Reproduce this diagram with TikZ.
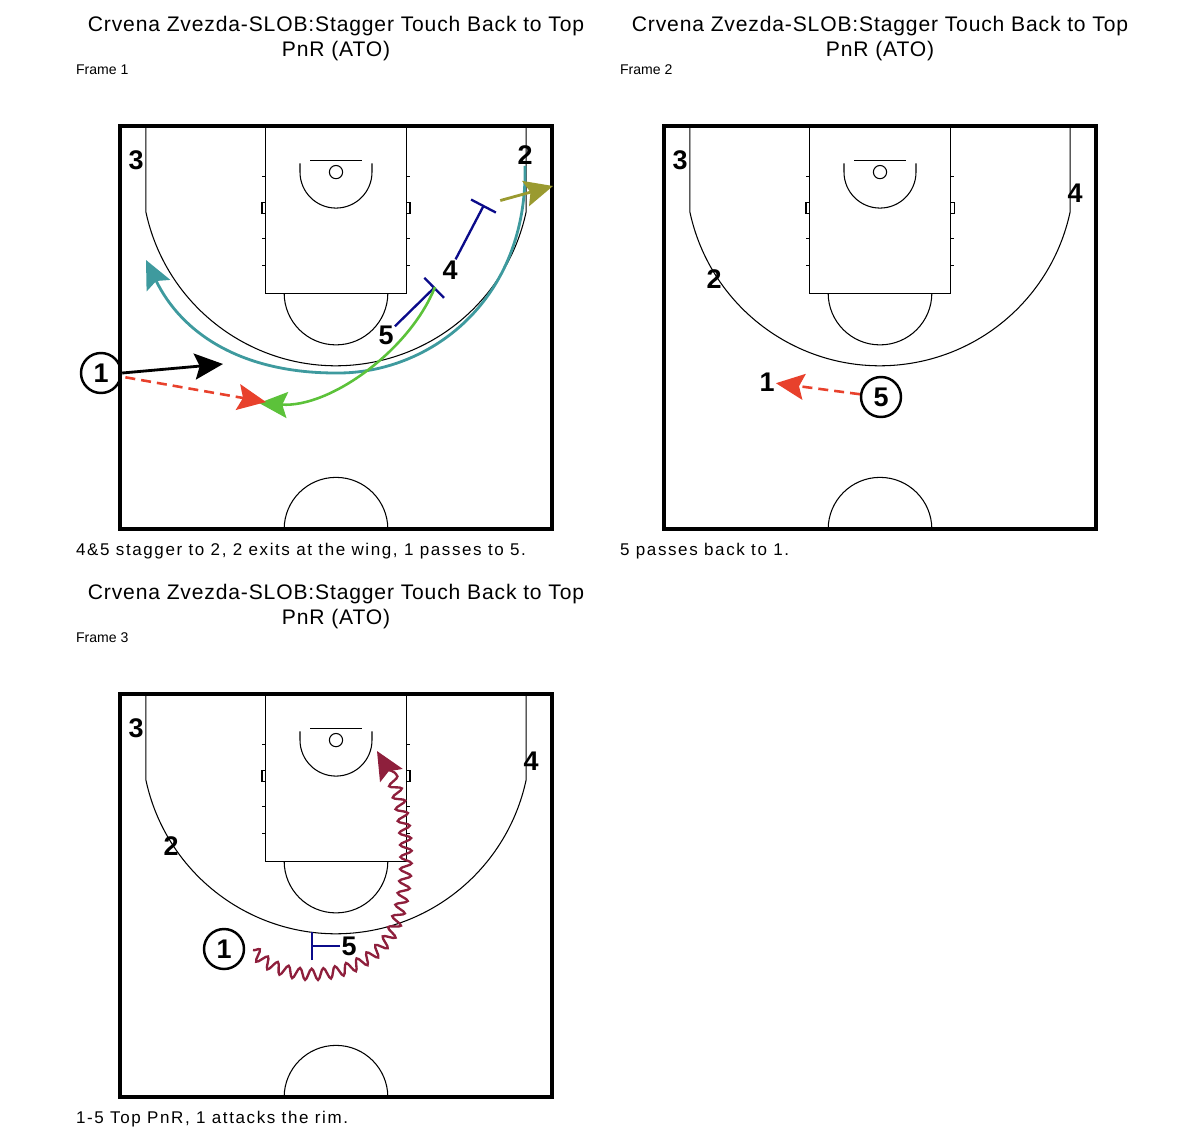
\documentclass[tikz,border=0pt]{standalone}
\usepackage{fontspec}
\setmainfont{Liberation Sans}
\newfontfamily\titlefont[LetterSpace=4.0]{Liberation Sans}
\newfontfamily\capfont[LetterSpace=9.5]{Liberation Sans}
\usetikzlibrary{arrows.meta}
\usetikzlibrary{decorations.pathmorphing}

\definecolor{passred}{HTML}{E8412C}
\definecolor{cutgreen}{HTML}{5CC23A}
\definecolor{curlteal}{HTML}{3E9A9E}
\definecolor{exitolive}{HTML}{9A9A30}
\definecolor{screenblue}{HTML}{0B0B8A}
\definecolor{drivemaroon}{HTML}{8E1F3C}

\tikzset{
  courtline/.style={line width=0.9pt},
  court/.pic={
    \draw[line width=3.4pt] (0,0) rectangle (15,14);
    % lane, free throw circle, board, rim
    \draw[courtline] (5.05,0) rectangle (9.95,5.8);
    \draw[courtline] (9.3,5.8) arc[start angle=0, end angle=180, radius=1.8];
    \draw[courtline] (6.6,1.2) -- (8.4,1.2);
    \draw[courtline] (7.5,1.6) circle[radius=0.23];
    \draw[courtline] (6.25,1.3) -- (6.25,1.6) arc[start angle=180, end angle=0, radius=1.25] -- (8.75,1.3);
    \foreach \y in {1.75,3.9,4.85} {
      \draw[courtline] (5.05,\y) -- (4.93,\y);
      \draw[courtline] (9.95,\y) -- (10.07,\y);
    }
    \draw[courtline] (4.93,2.65) rectangle (5.05,3.05);
    \draw[courtline] (9.95,2.65) rectangle (10.07,3.05);
    % three point line and centre circle
    \draw[courtline] (0.9,0) -- (0.9,2.99) arc[start angle=167.9, end angle=12.1, radius=6.75] -- (14.1,0);
    \draw[courtline] (9.3,14) arc[start angle=0, end angle=-180, radius=1.8];
  },
  title/.style={align=center, font=\titlefont\fontsize{18}{21.3}\selectfont},
  framelbl/.style={anchor=west, font=\fontsize{12}{14}\selectfont},
  caption/.style={anchor=west, font=\capfont\fontsize{14.5}{16}\selectfont},
  player/.style={font=\fontsize{23}{23}\selectfont\bfseries, inner sep=1pt},
  ball/.style={player, draw, circle, line width=2.1pt, minimum size=12mm, inner sep=0pt},
  head/.style={-{Stealth[length=8.5mm, width=7.8mm, inset=1.5mm]}},
  move/.style={head, line width=2.4pt},
  pass/.style={head, line width=2.2pt, dashed, dash pattern=on 3mm off 1.8mm, passred},
  cut/.style={head, line width=2.2pt, cutgreen},
  curl/.style={head, line width=2.4pt, curlteal},
  exit/.style={head, line width=2.4pt, exitolive},
  screen/.style={-{Bar[width=8.4mm, line width=2pt]}, line width=2pt, screenblue},
  dribble/.style={head, line width=2pt, drivemaroon,
    decorate, decoration={snake, amplitude=1.7mm, segment length=3.7mm, post length=6mm}},
}

\begin{document}
\begin{tikzpicture}[x=0.03cm, y=-0.03cm]
  \useasboundingbox (0,0) rectangle (1200,1143);

  % Frame 1
  \node[title] (TitleA) at (336,39) {Crvena Zvezda-SLOB:Stagger Touch Back to Top\\PnR (ATO)};
  \node[framelbl] (FrameA) at (72,70) {Frame 1};
  \pic[shift={(120,126)}, scale=28.8] {court};
  \node[player] (ThreeA) at (136,160) {3};
  \node[player] (TwoA) at (525,155) {2};
  \node[player] (FourA) at (450,270) {4};
  \node[player] (FiveA) at (386,335) {5};
  \node[ball] (OneA) at (101,373) {1};
  \coordinate (DriveEndA) at (223,364);
  \coordinate (PassEndA) at (266,402);
  \coordinate (CutEndA) at (259,403);
  \coordinate (ScrFourA) at (484,205);
  \coordinate (ScrFiveA) at (435,287);
  \coordinate (CurlEndA) at (146,260);
  \coordinate (ExitEndA) at (553,186);
  \draw[screen] (FourA) -- (ScrFourA);
  \draw[screen] (FiveA) -- (ScrFiveA);
  \draw[curl] (TwoA.south) .. controls (528,300) and (430,374) .. (336,373)
    .. controls (242,373) and (182,334) .. (CurlEndA);
  \draw[exit, shorten <=6\pgflinewidth] (ScrFourA) -- (ExitEndA);
  \draw[cut] (ScrFiveA) .. controls (410,350) and (330,408) .. (CutEndA);
  \draw[move] (OneA.east) -- (DriveEndA);
  \draw[pass, shorten <=3pt] (OneA.-10) -- (PassEndA);
  \node[caption] (CapA) at (72,551) {4\&5 stagger to 2, 2 exits at the wing, 1 passes to 5.};

  % Frame 2
  \node[title] (TitleB) at (880,39) {Crvena Zvezda-SLOB:Stagger Touch Back to Top\\PnR (ATO)};
  \node[framelbl] (FrameB) at (616,70) {Frame 2};
  \pic[shift={(664,126)}, scale=28.8] {court};
  \node[player] (ThreeB) at (680,160) {3};
  \node[player] (FourB) at (1075,193) {4};
  \node[player] (TwoB) at (714,279) {2};
  \node[player] (OneB) at (767,382) {1};
  \node[ball] (FiveB) at (881,397) {5};
  \draw[pass] (FiveB) -- (OneB);
  \node[caption] (CapB) at (616,551) {5 passes back to 1.};

  % Frame 3
  \node[title] (TitleC) at (336,607) {Crvena Zvezda-SLOB:Stagger Touch Back to Top\\PnR (ATO)};
  \node[framelbl] (FrameC) at (72,638) {Frame 3};
  \pic[shift={(120,694)}, scale=28.8] {court};
  \node[player] (ThreeC) at (136,728) {3};
  \node[player] (FourC) at (531,761) {4};
  \node[player] (TwoC) at (171,846) {2};
  \node[player] (FiveC) at (349,946) {5};
  \node[ball] (OneC) at (224,949) {1};
  \coordinate (ScrFiveC) at (311,946);
  \coordinate (DriveStartC) at (253,950);
  \coordinate (RimC) at (377,751);
  \draw[screen] (FiveC) -- (ScrFiveC);
  \draw[dribble] (DriveStartC) .. controls (280,982) and (360,982) .. (390,930)
    .. controls (410,890) and (412,800) .. (RimC);
  \node[caption] (CapC) at (72,1119) {1-5 Top PnR, 1 attacks the rim.};
\end{tikzpicture}
\end{document}
